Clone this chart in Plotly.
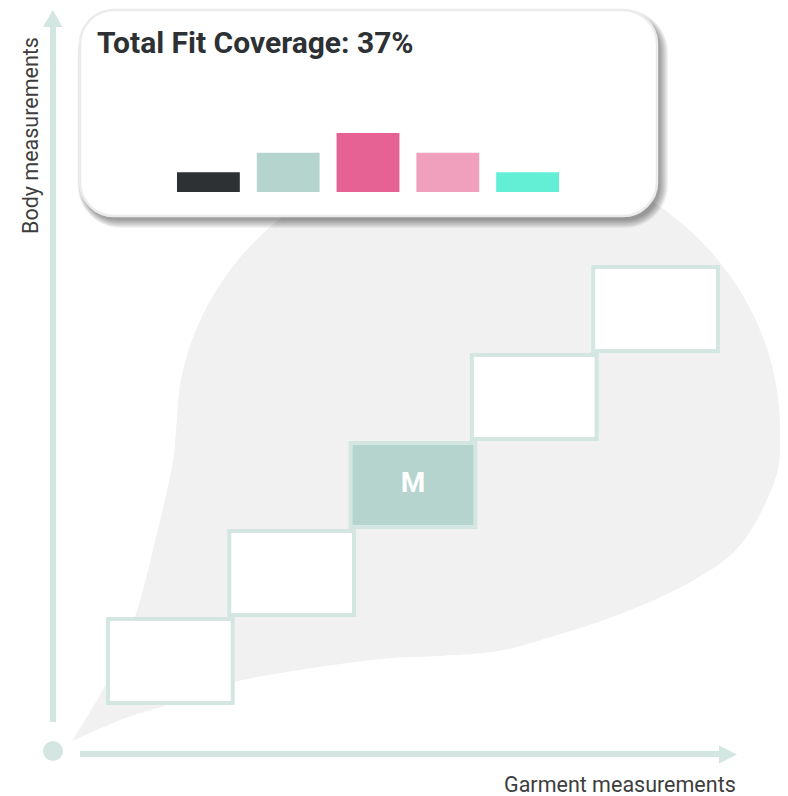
import math
import plotly.graph_objects as go

W, H = 780, 788   # figure size; the page adds an 8px body margin
OFF = 8           # screen pixel = figure pixel + 8

# ---------------- data ----------------
sizes = ["XS", "S", "M", "L", "XL"]
size_index = [0, 1, 2, 3, 4]
highlight = "M"
coverage_levels = [1, 2, 3, 2, 1]
bar_colors = ["#2d3134", "#b5d4ce", "#e76294", "#f0a0bd", "#63eed6"]
title_text = "Total Fit Coverage: 37%"
x_label = "Garment measurements"
y_label = "Body measurements"

# ---------------- style constants ----------------
AXIS_C = "#d3e6e1"
BOX_LINE = "#d3e6e1"
BOX_HI = "#b5d4ce"
BLOB_C = "#f1f1f1"
TEXT_C = "#3d3d3d"
BOX_W = 1.028   # box width relative to step
BOX_H = 0.9545  # box height relative to step


def px(x):
    return (x - OFF) / W


def py(y):
    return 1 - (y - OFF) / H


def path_from(points, close=True):
    s = "M" + " L".join(f"{px(x):.5f},{py(y):.5f}" for x, y in points)
    return s + (" Z" if close else "")


def rrect(x0, y0, x1, y1, r):
    k = 0.5523 * r
    P = lambda x, y: f"{px(x):.5f},{py(y):.5f}"
    return (f"M{P(x0 + r, y0)} L{P(x1 - r, y0)} "
            f"C{P(x1 - r + k, y0)} {P(x1, y0 + r - k)} {P(x1, y0 + r)} "
            f"L{P(x1, y1 - r)} "
            f"C{P(x1, y1 - r + k)} {P(x1 - r + k, y1)} {P(x1 - r, y1)} "
            f"L{P(x0 + r, y1)} "
            f"C{P(x0 + r - k, y1)} {P(x0, y1 - r + k)} {P(x0, y1 - r)} "
            f"L{P(x0, y0 + r)} "
            f"C{P(x0, y0 + r - k)} {P(x0 + r - k, y0)} {P(x0 + r, y0)} Z")


def catmull(pts, n=10):
    out = []
    ext = [pts[0]] + pts + [pts[-1]]
    for i in range(1, len(ext) - 2):
        p0, p1, p2, p3 = ext[i - 1], ext[i], ext[i + 1], ext[i + 2]
        for j in range(n):
            t = j / n
            t2, t3 = t * t, t * t * t
            x = 0.5 * (2 * p1[0] + (-p0[0] + p2[0]) * t + (2 * p0[0] - 5 * p1[0] + 4 * p2[0] - p3[0]) * t2 + (-p0[0] + 3 * p1[0] - 3 * p2[0] + p3[0]) * t3)
            y = 0.5 * (2 * p1[1] + (-p0[1] + p2[1]) * t + (2 * p0[1] - 5 * p1[1] + 4 * p2[1] - p3[1]) * t2 + (-p0[1] + 3 * p1[1] - 3 * p2[1] + p3[1]) * t3)
            out.append((x, y))
    out.append(pts[-1])
    return out


# background blob outline (screen pixels): lower-left flank, rounded top, lower-right flank
ECX, ECY, ERX, ERY = 478, 430, 302, 280
blob_left = [(72, 741), (107, 682), (135, 617), (157, 533), (172, 467)]
blob_top = [(ECX + ERX * math.cos(math.radians(a)), ECY + ERY * math.sin(math.radians(a)))
            for a in range(180, 371, 10)]
blob_bottom = [(742, 543), (694, 580), (623, 613), (551, 637), (498, 651), (440, 656),
               (380, 659), (300, 670), (235, 682), (167, 705), (123, 719), (72, 741)]
blob_outline = blob_left + blob_top + blob_bottom

shapes = []
# background blob
shapes.append(dict(type="path", xref="paper", yref="paper", layer="below",
                   path=path_from(catmull(blob_outline)), fillcolor=BLOB_C, line=dict(width=0)))

# axes
shapes.append(dict(type="line", xref="paper", yref="paper", layer="below",
                   x0=px(53), x1=px(53), y0=py(722), y1=py(26), line=dict(color=AXIS_C, width=6)))
shapes.append(dict(type="path", xref="paper", yref="paper", layer="below",
                   path=path_from([(43, 27), (62.5, 27), (52.8, 10)]), fillcolor=AXIS_C, line=dict(width=0)))
shapes.append(dict(type="line", xref="paper", yref="paper", layer="below",
                   x0=px(80), x1=px(720), y0=py(754), y1=py(754), line=dict(color=AXIS_C, width=6)))
shapes.append(dict(type="path", xref="paper", yref="paper", layer="below",
                   path=path_from([(719, 745.5), (719, 763.5), (737, 754.5)]), fillcolor=AXIS_C, line=dict(width=0)))
shapes.append(dict(type="circle", xref="paper", yref="paper", layer="below",
                   x0=px(43), x1=px(63), y0=py(741), y1=py(761), fillcolor=AXIS_C, line=dict(width=0)))

# card shadow + card
cx0, cy0, cx1, cy1, cr = 80, 10, 657, 216, 34
for k in range(10):
    shapes.append(dict(type="path", xref="paper", yref="paper", layer="below",
                       path=rrect(cx0 + 3 - k * 0.6, cy0 + 5 - k * 0.6, cx1 + 3 + k * 0.9, cy1 + 4 + k * 0.9, cr + k),
                       fillcolor="rgba(0,0,0,0.045)", line=dict(width=0)))
shapes.append(dict(type="path", xref="paper", yref="paper", layer="below",
                   path=rrect(cx0, cy0, cx1, cy1, cr), fillcolor="white",
                   line=dict(color="#ebebeb", width=2.5)))

# size boxes on the measurement grid
for i, s in zip(size_index, sizes):
    hi = (s == highlight)
    shapes.append(dict(type="rect", xref="x", yref="y", layer="below",
                       x0=i, x1=i + BOX_W, y0=i, y1=i + BOX_H,
                       fillcolor=BOX_HI if hi else "white",
                       line=dict(color=BOX_LINE, width=4)))

fig = go.Figure()

hi_i = size_index[sizes.index(highlight)]
fig.add_trace(go.Scatter(x=[hi_i + BOX_W / 2], y=[hi_i + BOX_H / 2], mode="text",
                         text=[f"<b>{highlight}</b>"],
                         textfont=dict(family="Roboto", size=28, color="white"),
                         hoverinfo="skip", showlegend=False, xaxis="x", yaxis="y"))

fig.add_trace(go.Bar(x=size_index, y=coverage_levels, marker=dict(color=bar_colors, line=dict(width=0)),
                     width=0.7875, xaxis="x2", yaxis="y2", hoverinfo="skip", showlegend=False))

annotations = [
    dict(text=f"<b>{title_text}</b>", xref="paper", yref="paper", x=px(95), y=py(43),
         xanchor="left", yanchor="middle", showarrow=False,
         font=dict(family="Roboto", size=30, color="#2d3134")),
    dict(text=y_label, xref="paper", yref="paper", x=px(30), y=py(136), textangle=-90,
         xanchor="center", yanchor="middle", showarrow=False,
         font=dict(family="Roboto", size=21.5, color=TEXT_C)),
    dict(text=x_label, xref="paper", yref="paper", x=px(738), y=py(784),
         xanchor="right", yanchor="middle", showarrow=False,
         font=dict(family="Roboto", size=21.5, color=TEXT_C)),
]

# main grid axes: screen px = 108 + 121.3*x ; screen py = 703 - 88*y
X0S, XSTEP, Y0S, YSTEP = 108 - OFF, 121.3, 703 - OFF, 88
hidden = dict(visible=False, showgrid=False, zeroline=False, fixedrange=True)
fig.update_layout(
    width=W, height=H, autosize=False,
    margin=dict(l=0, r=0, t=0, b=0, pad=0),
    paper_bgcolor="white", plot_bgcolor="rgba(0,0,0,0)",
    showlegend=False,
    xaxis=dict(domain=[0, 1], range=[-X0S / XSTEP, (W - X0S) / XSTEP], anchor="y", **hidden),
    yaxis=dict(domain=[0, 1], range=[(Y0S - H) / YSTEP, Y0S / YSTEP], anchor="x", **hidden),
    xaxis2=dict(domain=[px(168.5), px(567.5)], range=[-0.5, 4.5], anchor="y2", **hidden),
    yaxis2=dict(domain=[py(192), py(133)], range=[0, 3], anchor="x2", **hidden),
    shapes=shapes,
    annotations=annotations,
    font=dict(family="Roboto"),
)

fig.write_html("out.html")
